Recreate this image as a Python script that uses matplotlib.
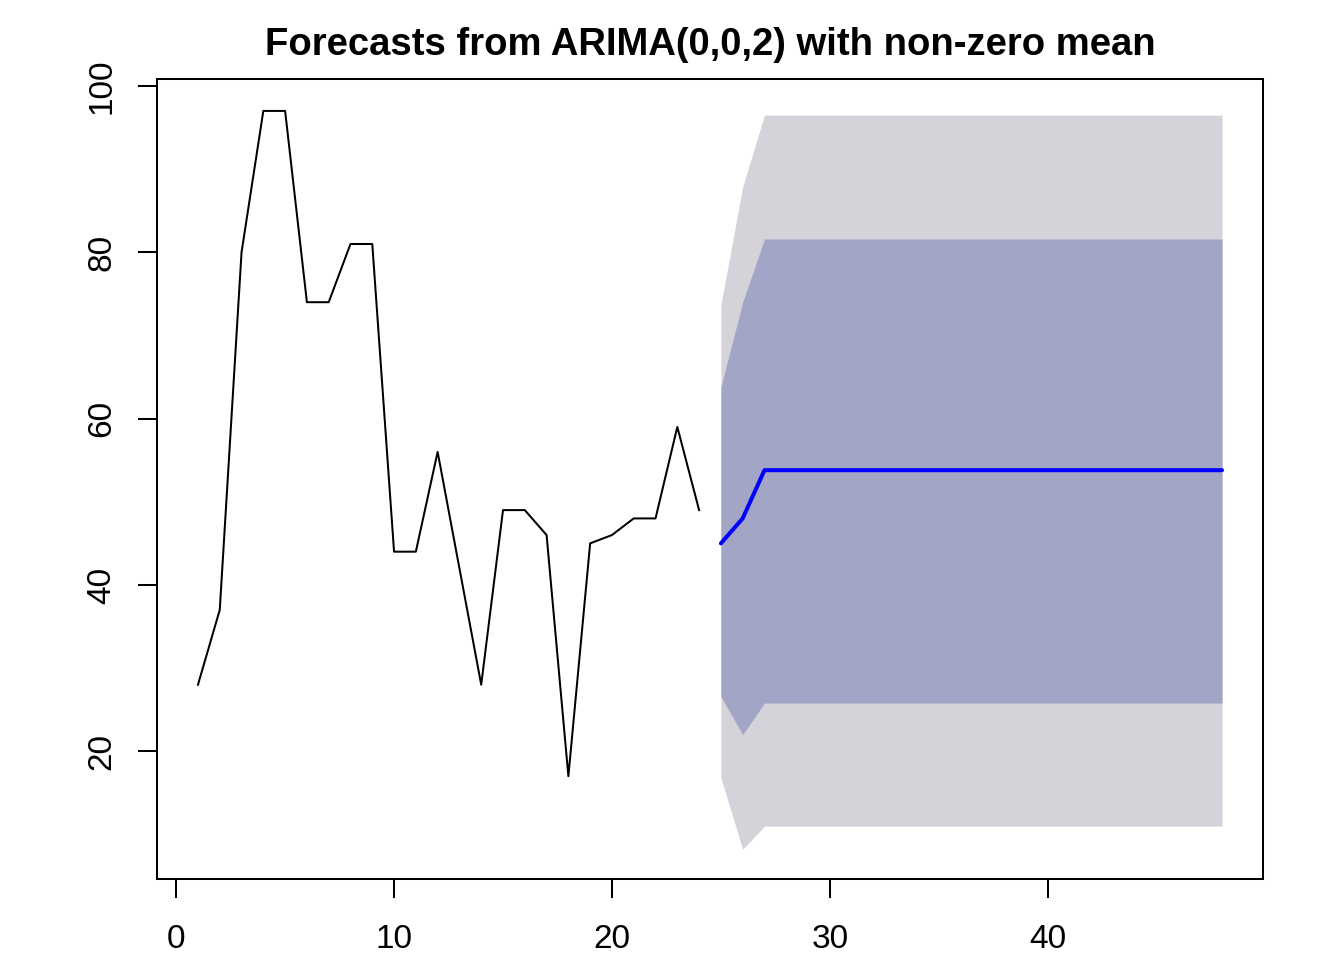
import matplotlib.pyplot as plt

# observed series, t = 1..24
obs_t = list(range(1, 25))
obs_y = [28, 37, 80, 97, 97, 74, 74, 81, 81, 44, 44, 56, 42, 28,
         49, 49, 46, 17, 45, 46, 48, 48, 59, 49]

# forecast horizon, t = 25..48
fc_t = list(range(25, 49))
fc_mean = [45.0, 48.0] + [53.8] * 22
lo80 = [26.6, 22.0] + [25.8] * 22
hi80 = [63.8, 74.0] + [81.6] * 22
lo95 = [16.8, 8.2] + [11.0] * 22
hi95 = [73.7, 87.9] + [96.5] * 22

x_ticks = [0, 10, 20, 30, 40]
y_ticks = [20, 40, 60, 80, 100]

plt.rcParams['font.family'] = ['Liberation Sans', 'DejaVu Sans']

fig = plt.figure(figsize=(13.44, 9.6), dpi=100)
ax = fig.add_axes([157 / 1344, 1 - 879 / 960, (1263 - 157) / 1344, (879 - 79) / 960])

ax.fill_between(fc_t, lo95, hi95, color='#D4D3DA', linewidth=0)
ax.fill_between(fc_t, lo80, hi80, color='#A2A5C5', linewidth=0)
ax.plot(obs_t, obs_y, color='black', linewidth=1.45)
ax.plot(fc_t, fc_mean, color='#0000FF', linewidth=2.9, solid_capstyle='round')

ax.set_xlim(-0.88, 49.88)
ax.set_ylim(4.64, 100.84)
ax.set_xticks(x_ticks)
ax.set_yticks(y_ticks)
ax.set_yticklabels([str(v) for v in y_ticks], rotation=90, va='center')
ax.tick_params(axis='both', length=13.7, width=1.45, labelsize=24)
ax.tick_params(axis='x', pad=19)
ax.tick_params(axis='y', pad=15)

for s in ax.spines.values():
    s.set_linewidth(1.45)

ax.set_title("Forecasts from ARIMA(0,0,2) with non-zero mean",
             fontsize=27.5, fontweight='bold', pad=17)

fig.savefig('out.png', dpi=100)
